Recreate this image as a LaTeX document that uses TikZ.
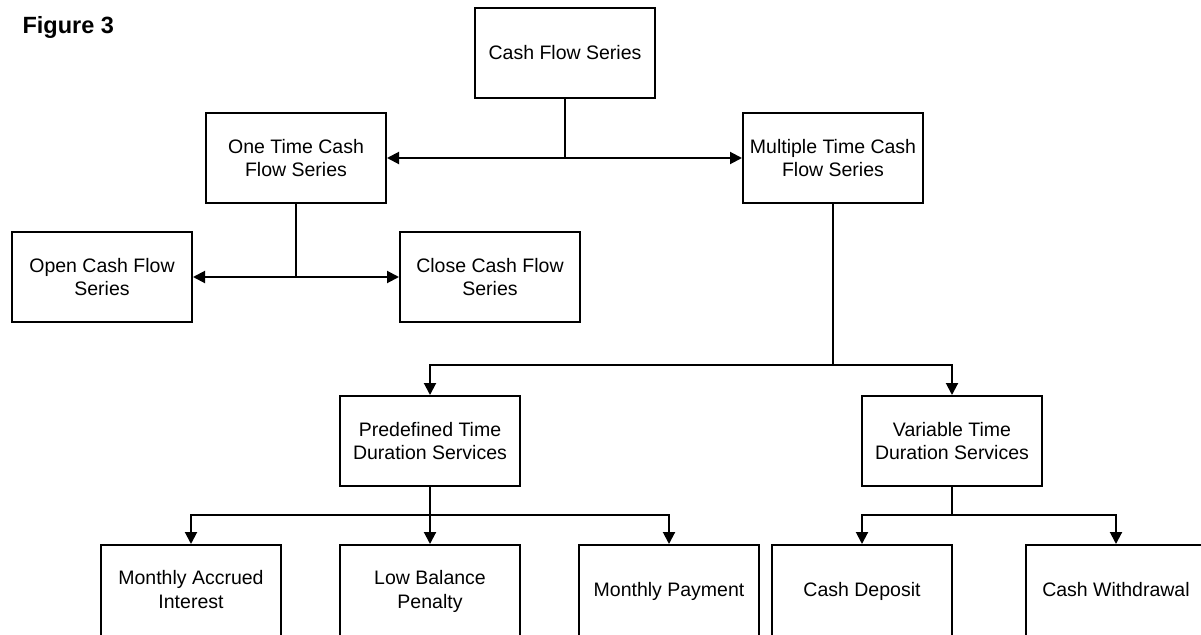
\documentclass[tikz,border=0pt]{standalone}
\usepackage{fontspec}
\setmainfont{Liberation Sans}
\usetikzlibrary{arrows.meta}
\newcommand{\liftup}[1]{\raisebox{3pt}{\begin{tabular}{@{}c@{}}#1\end{tabular}}}
\begin{document}
\begin{tikzpicture}[x=1pt,y=-1pt,
  box/.style={draw,line width=2pt,fill=white,minimum width=180pt,minimum height=90pt,
    inner sep=0pt,align=center,font=\fontsize{19.5}{23.5}\selectfont},
  lowbox/.style={box,minimum height=94pt},
  link/.style={line width=2pt},
  arr/.style={line width=2pt,-{Triangle[length=12pt,width=12pt]}}]
\useasboundingbox (0,0) rectangle (1201,634);
\clip (0,0) rectangle (1201,634);
\node[anchor=west,font=\bfseries\fontsize{23.5}{27}\selectfont] (fig) at (19,27) {Figure 3};
\node[box] (cfs) at (565,53) {Cash Flow Series};
\node[box] (one) at (296,158) {One Time Cash\\Flow Series};
\node[box] (multi) at (833,158) {Multiple Time Cash\\Flow Series};
\node[box] (open) at (102,277) {Open Cash Flow\\Series};
\node[box] (close) at (490,277) {Close Cash Flow\\Series};
\node[box] (pre) at (430,441) {Predefined Time\\Duration Services};
\node[box] (var) at (952,441) {Variable Time\\Duration Services};
\node[lowbox] (mai) at (191,592) {\liftup{Monthly Accrued\\Interest}};
\node[lowbox] (lbp) at (430,592) {\liftup{Low Balance\\Penalty}};
\node[lowbox] (mp) at (669,592) {\liftup{Monthly Payment}};
\node[lowbox] (cd) at (862,592) {\liftup{Cash Deposit}};
\node[lowbox] (cw) at (1116,592) {\liftup{Cash Withdrawal}};
\coordinate (j1) at (565,158);
\coordinate (j2) at (296,277);
\coordinate (j3) at (833,365);
\coordinate (j4) at (430,515);
\coordinate (j5) at (952,515);
\draw[link] (cfs.south) -- (j1);
\draw[arr] (j1) -- (one.east);
\draw[arr] (j1) -- (multi.west);
\draw[link] (one.south) -- (j2);
\draw[arr] (j2) -- (open.east);
\draw[arr] (j2) -- (close.west);
\draw[link] (multi.south) -- (j3);
\draw[arr] (j3) -| (pre.north);
\draw[arr] (j3) -| (var.north);
\draw[link] (pre.south) -- (j4);
\draw[arr] (j4) -| (mai.north);
\draw[arr] (j4) -- (lbp.north);
\draw[arr] (j4) -| (mp.north);
\draw[link] (var.south) -- (j5);
\draw[arr] (j5) -| (cd.north);
\draw[arr] (j5) -| (cw.north);
\end{tikzpicture}
\end{document}
